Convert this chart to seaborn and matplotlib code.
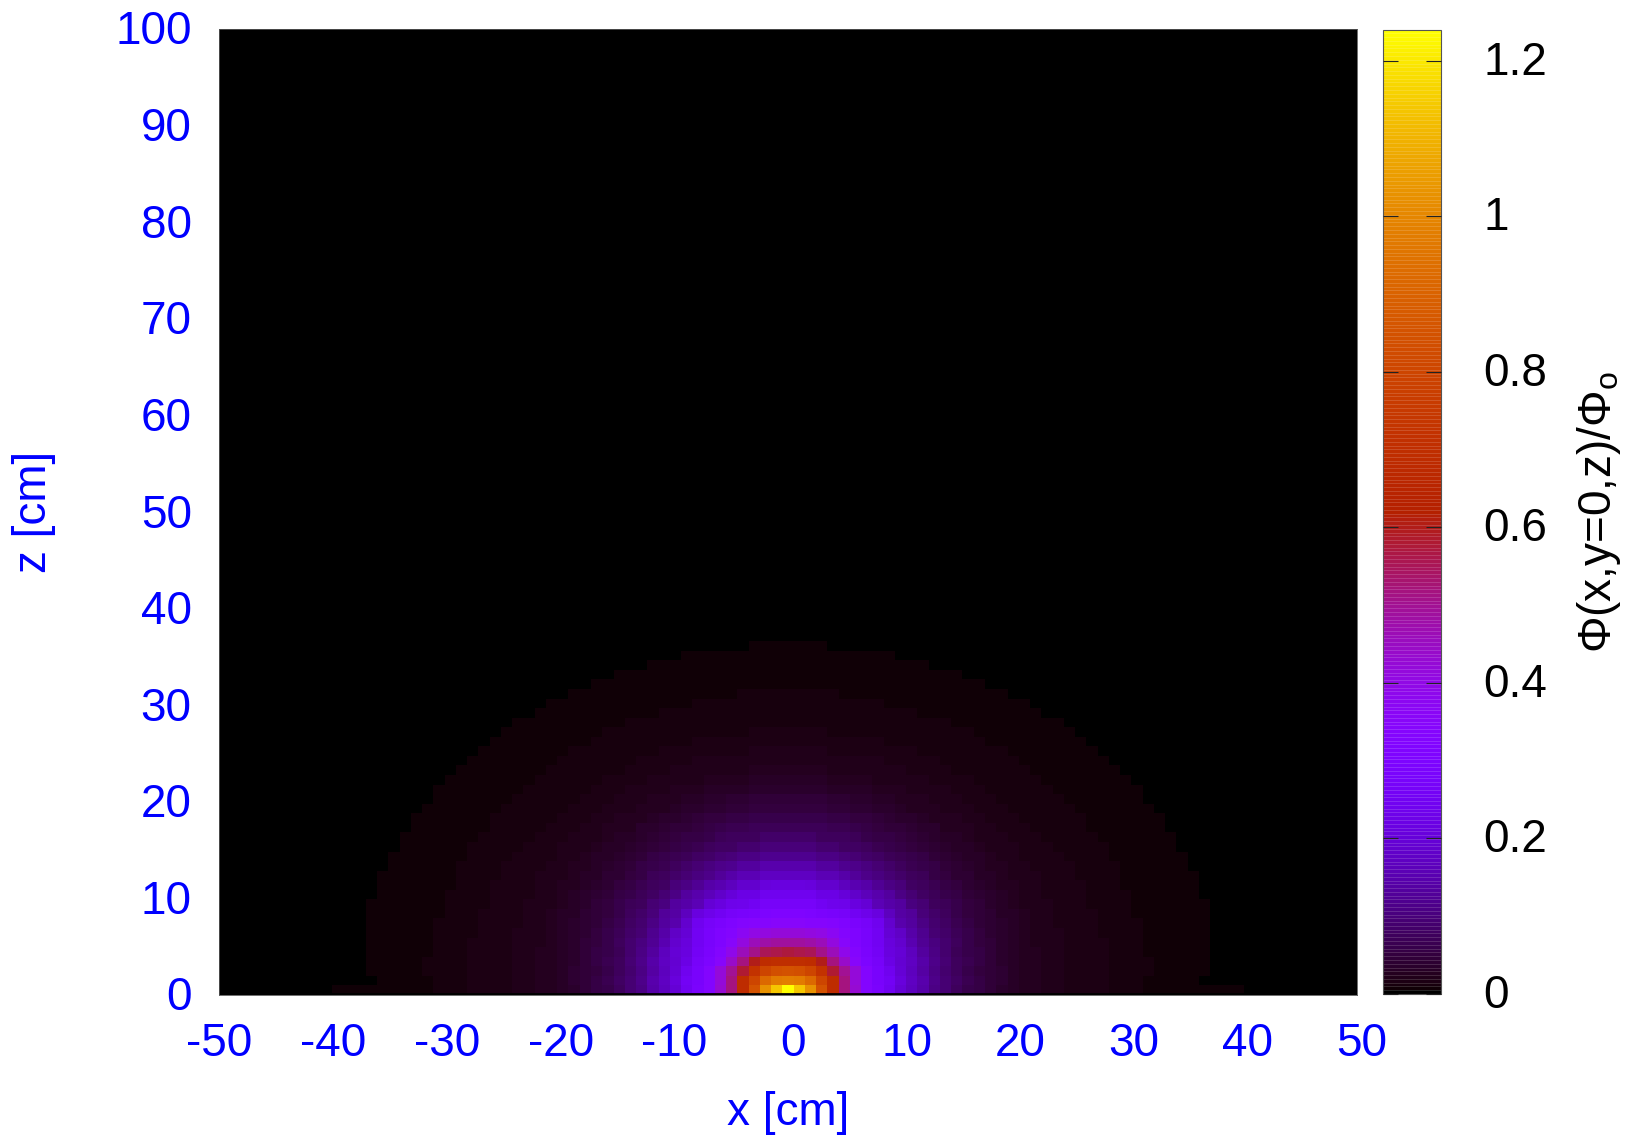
import numpy as np
import pandas as pd
import matplotlib
matplotlib.use('Agg')
import matplotlib.pyplot as plt
from matplotlib.colors import ListedColormap
from matplotlib.transforms import ScaledTranslation
import seaborn as sns

x_cm = list(range(-50, 51))
z_cm = list(range(0, 101))
x_ticks = list(range(-50, 51, 10))
z_ticks = list(range(0, 101, 10))
cbar_ticks = [0, 0.2, 0.4, 0.6, 0.8, 1, 1.2]
cbar_labels = ['0', '0.2', '0.4', '0.6', '0.8', '1', '1.2']

core_flux = [
    [1.24, 1.14, 1.03, 0.85, 0.69, 0.52, 0.43, 0.33, 0.29],
    [0.98, 0.97, 0.92, 0.80, 0.69, 0.52, 0.42, 0.33, 0.28],
    [0.85, 0.84, 0.80, 0.72, 0.58, 0.50, 0.42, 0.33, 0.28],
    [0.70, 0.70, 0.69, 0.60, 0.52, 0.44, 0.35, 0.30, 0.27],
    [0.57, 0.56, 0.55, 0.51, 0.46, 0.39, 0.33, 0.29, 0.26],
    [0.49, 0.49, 0.48, 0.46, 0.41, 0.35, 0.31, 0.28, 0.25],
    [0.42, 0.42, 0.41, 0.40, 0.37, 0.33, 0.31, 0.28, 0.25],
    [0.35, 0.35, 0.34, 0.34, 0.33, 0.31, 0.29, 0.27, 0.24],
    [0.31, 0.31, 0.30, 0.29, 0.28, 0.27, 0.25, 0.23, 0.21],
]

# flux further out, from 8 cm to 37 cm in half cm steps, along z and along x
z_flux = [0.33, 0.32, 0.31, 0.29, 0.27, 0.255, 0.24, 0.225, 0.21, 0.19,
          0.175, 0.16, 0.15, 0.135, 0.12, 0.11, 0.10, 0.09, 0.083, 0.076,
          0.07, 0.065, 0.06, 0.055, 0.05, 0.047, 0.044, 0.04, 0.037, 0.033,
          0.03, 0.028, 0.026, 0.024, 0.022, 0.021, 0.02, 0.018, 0.017, 0.016,
          0.015, 0.0145, 0.014, 0.013, 0.0125, 0.012, 0.011, 0.0105, 0.01, 0.009,
          0.0085, 0.008, 0.0075, 0.007, 0.0065, 0.006, 0.0056, 0.0052, 0.005]
x_flux = [0.29, 0.265, 0.24, 0.215, 0.19, 0.175, 0.16, 0.147, 0.135, 0.12,
          0.105, 0.096, 0.088, 0.08, 0.073, 0.066, 0.06, 0.056, 0.052, 0.048,
          0.044, 0.04, 0.037, 0.033, 0.03, 0.027, 0.025, 0.0235, 0.024, 0.0225,
          0.021, 0.0205, 0.02, 0.0194, 0.0188, 0.018, 0.0172, 0.0165, 0.016, 0.0155,
          0.015, 0.0147, 0.0146, 0.014, 0.013, 0.012, 0.011, 0.0102, 0.0097, 0.009,
          0.0085, 0.008, 0.0075, 0.007, 0.0065, 0.006, 0.0056, 0.0052, 0.005]

# how far each row z=0.. reaches from x=0 before it goes black
row_reach = [40, 36, 37, 37, 37, 37, 37, 37, 37, 37, 36, 36, 36, 35, 35, 34, 34,
             33, 33, 32, 31, 31, 30, 29, 28, 27, 26, 25, 24, 22, 21, 19, 17, 15,
             12, 9, 3]

flux = np.zeros((len(z_cm), len(x_cm)))
for j in range(len(row_reach)):
    for i, x in enumerate(x_cm):
        if abs(x) > row_reach[j]:
            continue
        if abs(x) <= 8 and j <= 8:
            flux[j, i] = core_flux[j][abs(x)]
        else:
            r = np.hypot(x, j + 1)
            k = min(int(round(2 * r)) - 16, len(z_flux) - 1)
            w = (j + 1) / r
            flux[j, i] = w * z_flux[k] + (1 - w) * x_flux[k]
df = pd.DataFrame(flux, index=z_cm, columns=x_cm)

# gnuplot default pm3d palette (7,5,15), 255 levels
lev = np.linspace(0, 1, 255)
pal = np.column_stack([np.sqrt(lev), lev ** 3, np.clip(np.sin(2 * np.pi * lev), 0, 1)])
cmap = ListedColormap(pal)

sns.set_theme(style='white')
plt.rcParams['font.family'] = ['Liberation Sans', 'DejaVu Sans']
plt.rcParams['mathtext.fontset'] = 'custom'
plt.rcParams['mathtext.rm'] = 'Liberation Sans'
plt.rcParams['mathtext.default'] = 'regular'

W, H = 1625, 1136
fig = plt.figure(figsize=(W / 100, H / 100), dpi=100)
ax = fig.add_axes([219.5 / W, (H - 995) / H, 1137 / W, 966 / H])
cax = fig.add_axes([1383 / W, (H - 994) / H, 58 / W, 964.5 / H])

sns.heatmap(df, ax=ax, cbar_ax=cax, cmap=cmap, vmin=0, vmax=1.24,
            xticklabels=False, yticklabels=False,
            cbar_kws={'ticks': cbar_ticks, 'drawedges': True})
ax.invert_yaxis()
ax.set_xlabel('')
ax.set_ylabel('')

BLUE = '#0000ff'
FS = 33
scale = len(x_cm) / 100
ax.set_xticks([(v + 50) * scale for v in x_ticks])
ax.set_xticklabels(x_ticks)
ax.set_yticks([v * scale for v in z_ticks])
ax.set_yticklabels(z_ticks)
ax.tick_params(axis='both', length=0, labelsize=FS, labelcolor=BLUE)
ax.tick_params(axis='x', pad=20)
ax.tick_params(axis='y', pad=20)
ax.axhline(0.13, color='black', lw=2)
for sp in ax.spines.values():
    sp.set_visible(True)
    sp.set_color('#555555')
    sp.set_linewidth(0.6)


def nudge(labels, dx, dy):
    # shift tick labels by pixels, gnuplot does not centre them quite like matplotlib
    for lab in labels:
        lab.set_transform(lab.get_transform() + ScaledTranslation(dx / 100, dy / 100, fig.dpi_scale_trans))


xlabs = ax.get_xticklabels()
nudge(xlabs[:5], 0, 1)
nudge(xlabs[5:], 5, 1)
nudge(ax.get_yticklabels(), 0, 1.5)

ax.set_xlabel('x [cm]', fontsize=FS, color=BLUE)
ax.xaxis.set_label_coords(0.5, -0.1225, transform=ax.transAxes)
ax.xaxis.label.set_verticalalignment('center')
ax.set_ylabel('z [cm]', fontsize=FS, color=BLUE)
ax.yaxis.set_label_coords(-0.163, 0.5, transform=ax.transAxes)
ax.yaxis.label.set_verticalalignment('center')

cbar = ax.collections[0].colorbar
cbar.dividers.set_color('white')
cbar.dividers.set_alpha(0.22)
cbar.dividers.set_linewidth(0.5)
cbar.outline.set_edgecolor('#555555')
cbar.outline.set_linewidth(0.8)
cbar.set_ticklabels(cbar_labels)
cax.set_axisbelow(False)
cax.tick_params(axis='y', direction='in', left=True, right=True, length=11,
                width=0.8, color='#222222', labelsize=FS, labelcolor='black', pad=31)
nudge(cax.get_yticklabels(), -1, 3)
cbar.set_label(r'$\Phi$(x,y=0,z)/$\Phi_o$', fontsize=FS, color='black', rotation=90)
cax.yaxis.set_label_coords(3.72, 0.5, transform=cax.transAxes)
cax.yaxis.label.set_verticalalignment('center')

fig.savefig('out.png', dpi=100, facecolor='white')
